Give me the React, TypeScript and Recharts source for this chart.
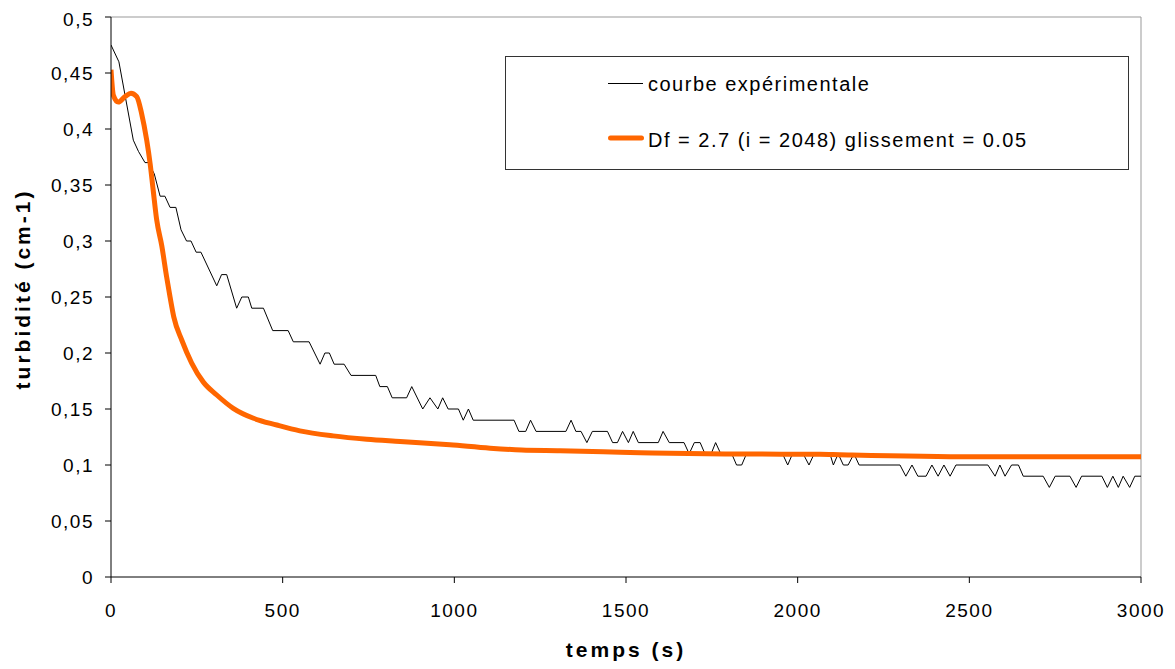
import React from 'react';
import { LineChart, Line, XAxis, YAxis, ReferenceLine, Legend, Label } from 'recharts';

const FONT = '"Liberation Sans", Arial, Helvetica, sans-serif';

// Experimental curve (time in s, turbidity in cm-1)
const expTimes = [
  0, 23, 65, 80, 99, 109, 126, 143, 157, 172, 189, 204, 220, 233, 248, 262, 308, 322, 337, 366,
  381, 400, 410, 444, 471, 516, 531, 577, 609, 623, 636, 650, 679, 699, 771, 783, 805, 819, 861, 876,
  908, 929, 952, 966, 982, 1012, 1026, 1041, 1055, 1174, 1188, 1208, 1222, 1238, 1325, 1340, 1354, 1369, 1386, 1402,
  1446, 1461, 1475, 1490, 1507, 1521, 1536, 1594, 1608, 1626, 1669, 1684, 1699, 1716, 1730, 1748, 1761, 1776, 1808, 1822,
  1837, 1851, 1956, 1971, 1985, 2016, 2033, 2048, 2094, 2104, 2118, 2133, 2147, 2164, 2179, 2298, 2315, 2333, 2350, 2374,
  2391, 2409, 2426, 2444, 2461, 2554, 2575, 2589, 2604, 2623, 2643, 2657, 2715, 2733, 2750, 2793, 2811, 2827, 2886, 2902,
  2918, 2934, 2948, 2967, 2982, 3000,
];
const expValues = [
  0.475, 0.46, 0.39, 0.38, 0.37, 0.37, 0.36, 0.34, 0.34, 0.33, 0.33, 0.31, 0.30, 0.30, 0.29, 0.29, 0.26, 0.27, 0.27, 0.24,
  0.25, 0.25, 0.24, 0.24, 0.22, 0.22, 0.21, 0.21, 0.19, 0.20, 0.20, 0.19, 0.19, 0.18, 0.18, 0.17, 0.17, 0.16, 0.16, 0.17,
  0.15, 0.16, 0.15, 0.16, 0.15, 0.15, 0.14, 0.15, 0.14, 0.14, 0.13, 0.13, 0.14, 0.13, 0.13, 0.14, 0.13, 0.13, 0.12, 0.13,
  0.13, 0.12, 0.12, 0.13, 0.12, 0.13, 0.12, 0.12, 0.13, 0.12, 0.12, 0.11, 0.12, 0.12, 0.11, 0.11, 0.12, 0.11, 0.11, 0.10,
  0.10, 0.11, 0.11, 0.10, 0.11, 0.11, 0.10, 0.11, 0.11, 0.10, 0.11, 0.10, 0.10, 0.11, 0.10, 0.10, 0.09, 0.10, 0.09, 0.09,
  0.10, 0.09, 0.10, 0.09, 0.10, 0.10, 0.09, 0.10, 0.09, 0.10, 0.10, 0.09, 0.09, 0.08, 0.09, 0.09, 0.08, 0.09, 0.09, 0.08,
  0.09, 0.08, 0.09, 0.08, 0.09, 0.09,
];

// Model curve
const modelTimes = [
  0, 7, 21, 41, 58, 75, 89, 104, 114, 123, 133, 148, 162, 172, 183, 206, 235, 269, 308, 356,
  415, 483, 550, 647, 745, 842, 987, 1104, 1196, 1308, 1434, 1541, 1628, 1841, 2065, 2123, 2511, 3000,
];
const modelValues = [
  0.453, 0.43, 0.424, 0.429, 0.432, 0.429, 0.414, 0.39, 0.369, 0.345, 0.319, 0.2955, 0.268, 0.25, 0.232, 0.2116, 0.191, 0.174, 0.1625, 0.1506,
  0.1417, 0.1357, 0.1305, 0.126, 0.123, 0.121, 0.118, 0.115, 0.1134, 0.1128, 0.1119, 0.111, 0.1104, 0.1098, 0.1096, 0.1092, 0.1074, 0.1074,
];

const xTicks = [0, 500, 1000, 1500, 2000, 2500, 3000];
const yTicks = [0, 0.05, 0.1, 0.15, 0.2, 0.25, 0.3, 0.35, 0.4, 0.45, 0.5];
const seriesNames = ['courbe expérimentale', 'Df = 2.7 (i = 2048) glissement = 0.05'];
const xTitle = 'temps (s)';
const yTitle = 'turbidité (cm-1)';

const expData = expTimes.map((t, i) => ({ t, v: expValues[i] }));
const modelData = modelTimes.map((t, i) => ({ t, v: modelValues[i] }));

const ORANGE = '#FF6600';

const fmtY = (v: number) => String(Math.round(v * 100) / 100).replace('.', ',');

const LegendBox = () => (
  <div style={{ width: 624, height: 114, border: '1px solid #333', boxSizing: 'border-box', background: '#fff' }}>
    <svg width={622} height={112} style={{ display: 'block' }}>
      <line x1={102} x2={137} y1={26.5} y2={26.5} stroke="#000" strokeWidth={1} />
      <text x={142} y={33.7} fontFamily={FONT} fontSize={20} letterSpacing={1.5} fill="#000">{seriesNames[0]}</text>
      <line x1={104.5} x2={135.5} y1={81} y2={81} stroke={ORANGE} strokeWidth={5} strokeLinecap="round" />
      <text x={142} y={89.7} fontFamily={FONT} fontSize={20} letterSpacing={1.5} fill="#000">{seriesNames[1]}</text>
    </svg>
  </div>
);

const YTitle = (props: any) => {
  const vb = props.viewBox || { x: 0, y: 9, width: 103, height: 560 };
  const cx = vb.x + 14;
  const cy = vb.y + vb.height / 2 - 8;
  return (
    <text x={cx} y={cy} transform={`rotate(-90 ${cx} ${cy})`} textAnchor="middle" dominantBaseline="central"
      fontFamily={FONT} fontWeight="bold" fontSize={21} letterSpacing={3} fill="#000">{yTitle}</text>
  );
};

const XTitle = (props: any) => {
  const vb = props.viewBox || { x: 103, y: 569, width: 1030, height: 92 };
  const cx = vb.x + vb.width / 2;
  const cy = vb.y + 80;
  return (
    <text x={cx} y={cy} textAnchor="middle" fontFamily={FONT} fontWeight="bold" fontSize={21} letterSpacing={3} fill="#000">{xTitle}</text>
  );
};

export default function App() {
  return (
    <div style={{ width: 1160, height: 661, fontFamily: FONT }}>
      <LineChart width={1160} height={661} margin={{ top: 9, right: 27, left: 0, bottom: 0 }}>
        <XAxis
          type="number"
          dataKey="t"
          domain={[0, 3000]}
          ticks={xTicks}
          height={92}
          tickSize={6}
          tickMargin={21}
          stroke="#000"
          tickLine={{ stroke: '#000' }}
          axisLine={{ stroke: '#000' }}
          tick={{ fill: '#000', fontSize: 19, fontFamily: FONT, letterSpacing: 1.5 }}
          allowDataOverflow
        >
          <Label content={XTitle} />
        </XAxis>
        <YAxis
          type="number"
          domain={[0, 0.5]}
          ticks={yTicks}
          width={103}
          tickSize={6}
          tickMargin={11}
          stroke="#000"
          tickLine={{ stroke: '#000' }}
          axisLine={{ stroke: '#000' }}
          tickFormatter={fmtY}
          tick={{ fill: '#000', fontSize: 19, fontFamily: FONT, letterSpacing: 1.5 }}
          allowDataOverflow
        >
          <Label content={YTitle} />
        </YAxis>
        <ReferenceLine y={0.5} stroke="#999" strokeWidth={1} />
        <ReferenceLine x={3000} stroke="#999" strokeWidth={1} />
        <Line
          data={expData}
          dataKey="v"
          name={seriesNames[0]}
          type="linear"
          stroke="#000"
          strokeWidth={1}
          dot={false}
          activeDot={false}
          isAnimationActive={false}
        />
        <Line
          data={modelData}
          dataKey="v"
          name={seriesNames[1]}
          type="monotone"
          stroke={ORANGE}
          strokeWidth={5}
          dot={false}
          activeDot={false}
          isAnimationActive={false}
        />
        <Legend
          layout="vertical"
          align="center"
          verticalAlign="middle"
          content={LegendBox}
          wrapperStyle={{ left: 497, top: 48, width: 624, height: 114, margin: 0, padding: 0 }}
        />
      </LineChart>
    </div>
  );
}
